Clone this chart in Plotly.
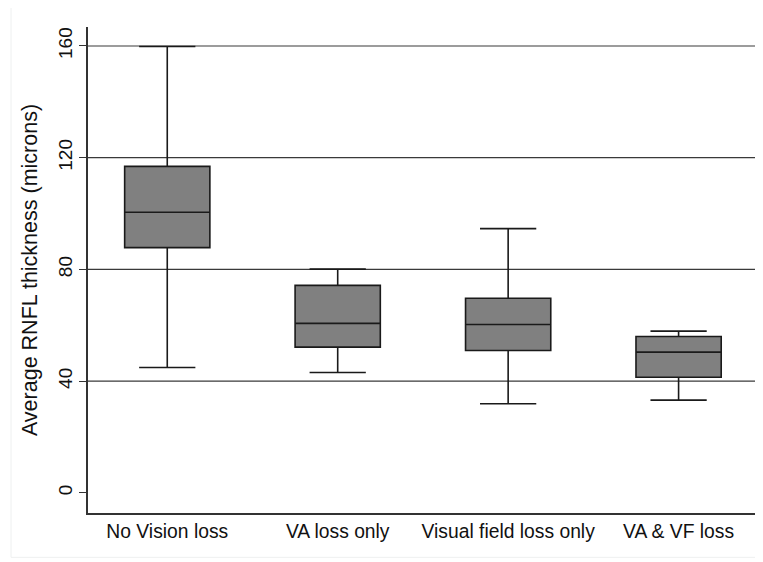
import plotly.graph_objects as go

categories = ["No Vision loss", "VA loss only", "Visual field loss only", "VA & VF loss"]
upper = [159.8, 80.1, 94.6, 57.9]
q3 = [116.9, 74.3, 69.7, 56.0]
median = [100.5, 60.7, 60.3, 50.4]
q1 = [87.8, 52.2, 51.0, 41.4]
lower = [44.9, 43.1, 31.9, 33.2]
y_ticks = [0, 40, 80, 120, 160]
grid_lines = [40, 80, 120, 160]

fig = go.Figure()
fig.add_trace(go.Box(
    x=list(range(len(categories))),
    q1=q1, median=median, q3=q3,
    lowerfence=lower, upperfence=upper,
    width=0.5,
    whiskerwidth=0.66,
    fillcolor="#808080",
    line=dict(color="#1a1a1a", width=1.6),
    boxpoints=False,
    hoverinfo="skip",
    showlegend=False,
))

shapes = []
for g in grid_lines:
    shapes.append(dict(type="line", xref="paper", yref="y", x0=0, x1=1, y0=g, y1=g,
                       line=dict(color="#3a3a3a", width=1.2), layer="below"))
# light outer graph-region border
shapes.append(dict(type="rect", xref="paper", yref="paper",
                   x0=(11 - 88) / 669, x1=(762 - 88) / 669,
                   y0=-(557 - 512.7) / 485.7, y1=1 + (27 - 7) / 485.7,
                   line=dict(color="#eef0f0", width=1), layer="below"))

# page body has an 8px margin, so the figure is shifted by 8px; compensate
fig.update_layout(
    width=755, height=554,
    margin=dict(l=80, r=6, t=19, b=49.3),
    paper_bgcolor="white", plot_bgcolor="white",
    font=dict(family="Liberation Sans, Arial, sans-serif", color="#111111"),
    shapes=shapes,
    xaxis=dict(
        range=[-0.465, 3.46],
        tickvals=list(range(len(categories))),
        ticktext=categories,
        tickfont=dict(size=19.3),
        showgrid=False, zeroline=False,
        showline=True, linecolor="#333333", linewidth=1.5,
        ticks="", ticklen=0,
        automargin=False,
    ),
    yaxis=dict(
        range=[-7.2, 166.8],
        tickvals=y_ticks,
        tickangle=-90,
        tickfont=dict(size=19),
        showgrid=False, zeroline=False,
        showline=True, linecolor="#333333", linewidth=1.5,
        ticks="outside", ticklen=7, tickcolor="#333333",
        title=dict(text="Average RNFL thickness (microns)", font=dict(size=21.5), standoff=11),
        automargin=False,
    ),
)

fig.write_html("out.html")
